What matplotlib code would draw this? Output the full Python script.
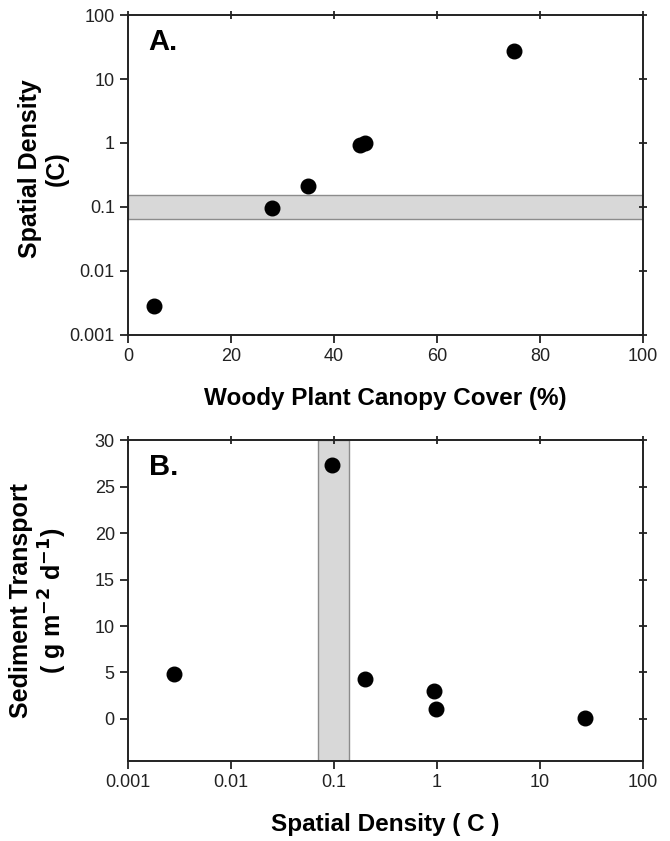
import numpy as np
import matplotlib
matplotlib.use('Agg')
import matplotlib.pyplot as plt

# panel A: canopy cover vs spatial density
cover = [5, 28, 35, 45, 46, 75]
density_a = [0.0028, 0.095, 0.21, 0.92, 1.0, 27.5]
band_a = (0.065, 0.155)

# panel B: spatial density vs sediment transport
density_b = [0.0028, 0.095, 0.2, 0.93, 0.97, 27]
transport = [4.85, 27.3, 4.3, 3.0, 1.1, 0.1]
band_b = (0.070, 0.14)

plt.rcParams['font.family'] = ['Liberation Sans', 'DejaVu Sans']
plt.rcParams['mathtext.default'] = 'bf'

fig = plt.figure(figsize=(6.7, 8.41), dpi=100)
ax1 = fig.add_axes([0.191, 0.602, 0.769, 0.380])
ax2 = fig.add_axes([0.191, 0.0955, 0.769, 0.381])

def style(ax):
    for s in ax.spines.values():
        s.set_linewidth(1.4)
        s.set_color('#222222')
    ax.tick_params(which='major', labelsize=13, width=1.3, length=6, color='#222222',
                   labelcolor='#222222', direction='out', top=True, right=True)
    ax.tick_params(which='minor', left=False, bottom=False, right=False, top=False)
    for t in ax.xaxis.get_major_ticks():
        t.tick2line.set_marker('|')
    for t in ax.yaxis.get_major_ticks():
        t.tick2line.set_marker('_')

# panel A
ax1.axhspan(band_a[0], band_a[1], facecolor='#d8d8d8', edgecolor='#8c8c8c', lw=1)
ax1.scatter(cover, density_a, s=110, color='black', zorder=3)
ax1.set_yscale('log')
ax1.set_xlim(0, 100)
ax1.set_ylim(0.001, 100)
ax1.set_xticks([0, 20, 40, 60, 80, 100])
ax1.set_yticks([0.001, 0.01, 0.1, 1, 10, 100])
ax1.set_yticklabels(['0.001', '0.01', '0.1', '1', '10', '100'])
style(ax1)
ax1.set_xlabel('Woody Plant Canopy Cover (%)', fontsize=17.5, fontweight='bold', labelpad=16)
ax1.set_ylabel('Spatial Density\n(C)', fontsize=18, fontweight='bold', linespacing=1.15)
ax1.yaxis.set_label_coords(-0.115, 0.52)
ax1.text(0.04, 0.96, 'A.', transform=ax1.transAxes, fontsize=21, fontweight='bold',
         va='top', ha='left')

# panel B
ax2.axvspan(band_b[0], band_b[1], facecolor='#d8d8d8', edgecolor='#8c8c8c', lw=1)
ax2.scatter(density_b, transport, s=110, color='black', zorder=3)
ax2.set_xscale('log')
ax2.set_xlim(0.001, 100)
ax2.set_ylim(-4.5, 30)
ax2.set_xticks([0.001, 0.01, 0.1, 1, 10, 100])
ax2.set_xticklabels(['0.001', '0.01', '0.1', '1', '10', '100'])
ax2.set_yticks([0, 5, 10, 15, 20, 25, 30])
style(ax2)
ax2.set_xlabel('Spatial Density ( C )', fontsize=17.5, fontweight='bold', labelpad=16)
ax2.set_ylabel('Sediment Transport\n( g m$^{-2}$ d$^{-1}$)', fontsize=18,
               fontweight='bold', linespacing=1.15)
ax2.yaxis.set_label_coords(-0.115, 0.5)
ax2.text(0.04, 0.96, 'B.', transform=ax2.transAxes, fontsize=21, fontweight='bold',
         va='top', ha='left')

fig.savefig('out.png', dpi=100)
